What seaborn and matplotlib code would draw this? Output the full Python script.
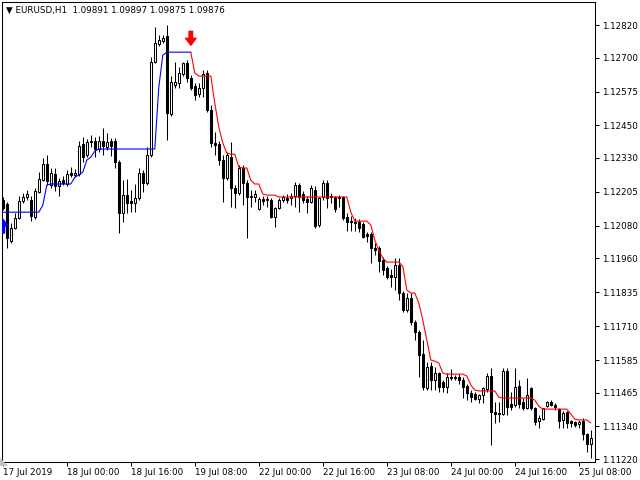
import matplotlib

matplotlib.use("Agg")
import matplotlib.pyplot as plt
import numpy as np
import pandas as pd
import seaborn as sns
from matplotlib.patches import Polygon

SYMBOL_LINE = "EURUSD,H1  1.09891 1.09897 1.09875 1.09876"

# hourly candles, one entry per bar (17 Jul 08:00 .. 25 Jul 11:00)
OPEN = [
    1.12175, 1.12160, 1.12024, 1.12071, 1.12108, 1.12171, 1.12186, 1.12175, 1.12112, 1.12204,
    1.12248, 1.12307, 1.12230, 1.12271, 1.12226, 1.12248, 1.12234, 1.12274, 1.12267, 1.12271,
    1.12381, 1.12341, 1.12389, 1.12392, 1.12363, 1.12392, 1.12370, 1.12392, 1.12392, 1.12315,
    1.12127, 1.12193, 1.12171, 1.12164, 1.12182, 1.12274, 1.12237, 1.12341, 1.12683, 1.12750,
    1.12761, 1.12779, 1.12492, 1.12599, 1.12606, 1.12639, 1.12680, 1.12624, 1.12595, 1.12565,
    1.12588, 1.12643, 1.12506, 1.12385, 1.12381, 1.12322, 1.12256, 1.12333, 1.12219, 1.12201,
    1.12293, 1.12237, 1.12189, 1.12186, 1.12142, 1.12178, 1.12175, 1.12175, 1.12112, 1.12145,
    1.12175, 1.12182, 1.12182, 1.12189, 1.12230, 1.12197, 1.12178, 1.12167, 1.12212, 1.12083,
    1.12186, 1.12237, 1.12186, 1.12186, 1.12182, 1.12186, 1.12112, 1.12097, 1.12094, 1.12094,
    1.12086, 1.12049, 1.12049, 1.11998, 1.11998, 1.11954, 1.11924, 1.11898, 1.11891, 1.11935,
    1.11832, 1.11769, 1.11813, 1.11725, 1.11688, 1.11607, 1.11482, 1.11563, 1.11511, 1.11537,
    1.11504, 1.11485, 1.11522, 1.11518, 1.11522, 1.11511, 1.11489, 1.11463, 1.11460, 1.11441,
    1.11456, 1.11478, 1.11526, 1.11393, 1.11389, 1.11386, 1.11544, 1.11423, 1.11419, 1.11489,
    1.11430, 1.11408, 1.11482, 1.11408, 1.11360, 1.11367, 1.11415, 1.11430, 1.11419, 1.11404,
    1.11364, 1.11393, 1.11360, 1.11356, 1.11349, 1.11360, 1.11312, 1.11275,
]
HIGH = [
    1.12186, 1.12167, 1.12090, 1.12127, 1.12189, 1.12201, 1.12212, 1.12189, 1.12219, 1.12278,
    1.12330, 1.12341, 1.12293, 1.12293, 1.12256, 1.12263, 1.12285, 1.12296, 1.12289, 1.12392,
    1.12407, 1.12400, 1.12414, 1.12407, 1.12411, 1.12440, 1.12422, 1.12403, 1.12403, 1.12322,
    1.12248, 1.12252, 1.12212, 1.12234, 1.12293, 1.12285, 1.12370, 1.12702, 1.12812, 1.12783,
    1.12783, 1.12820, 1.12632, 1.12683, 1.12665, 1.12683, 1.12691, 1.12635, 1.12606, 1.12606,
    1.12654, 1.12654, 1.12525, 1.12425, 1.12392, 1.12341, 1.12352, 1.12389, 1.12230, 1.12304,
    1.12304, 1.12248, 1.12212, 1.12212, 1.12186, 1.12189, 1.12189, 1.12182, 1.12149, 1.12182,
    1.12193, 1.12197, 1.12201, 1.12241, 1.12237, 1.12208, 1.12189, 1.12230, 1.12226, 1.12186,
    1.12248, 1.12248, 1.12201, 1.12189, 1.12193, 1.12189, 1.12127, 1.12116, 1.12108, 1.12105,
    1.12094, 1.12057, 1.12057, 1.12016, 1.12005, 1.11965, 1.11931, 1.11920, 1.11961, 1.11961,
    1.11839, 1.11832, 1.11832, 1.11732, 1.11695, 1.11659, 1.11577, 1.11577, 1.11559, 1.11541,
    1.11511, 1.11537, 1.11552, 1.11530, 1.11533, 1.11522, 1.11496, 1.11474, 1.11467, 1.11460,
    1.11485, 1.11537, 1.11555, 1.11430, 1.11430, 1.11555, 1.11555, 1.11467, 1.11555, 1.11511,
    1.11445, 1.11518, 1.11485, 1.11412, 1.11382, 1.11408, 1.11434, 1.11437, 1.11426, 1.11408,
    1.11397, 1.11397, 1.11364, 1.11360, 1.11364, 1.11371, 1.11316, 1.11327,
]
LOW = [
    1.12138, 1.11998, 1.12016, 1.12068, 1.12105, 1.12164, 1.12175, 1.12097, 1.12105, 1.12201,
    1.12245, 1.12230, 1.12219, 1.12208, 1.12189, 1.12230, 1.12226, 1.12259, 1.12259, 1.12263,
    1.12315, 1.12333, 1.12370, 1.12333, 1.12352, 1.12341, 1.12359, 1.12337, 1.12293, 1.12053,
    1.12094, 1.12127, 1.12130, 1.12130, 1.12175, 1.12204, 1.12230, 1.12333, 1.12680, 1.12742,
    1.12753, 1.12396, 1.12484, 1.12588, 1.12588, 1.12632, 1.12610, 1.12580, 1.12543, 1.12554,
    1.12554, 1.12499, 1.12370, 1.12341, 1.12304, 1.12167, 1.12248, 1.12149, 1.12145, 1.12193,
    1.12156, 1.12035, 1.12149, 1.12167, 1.12138, 1.12156, 1.12149, 1.12108, 1.12075, 1.12142,
    1.12167, 1.12164, 1.12156, 1.12149, 1.12130, 1.12164, 1.12127, 1.12164, 1.12071, 1.12075,
    1.12175, 1.12145, 1.12164, 1.12130, 1.12149, 1.12101, 1.12060, 1.12060, 1.12060, 1.12057,
    1.12035, 1.12020, 1.11942, 1.11972, 1.11909, 1.11898, 1.11883, 1.11854, 1.11843, 1.11806,
    1.11762, 1.11762, 1.11714, 1.11659, 1.11522, 1.11474, 1.11474, 1.11474, 1.11474, 1.11467,
    1.11467, 1.11463, 1.11511, 1.11511, 1.11496, 1.11445, 1.11437, 1.11430, 1.11437, 1.11426,
    1.11426, 1.11467, 1.11271, 1.11353, 1.11356, 1.11382, 1.11382, 1.11401, 1.11412, 1.11408,
    1.11401, 1.11404, 1.11401, 1.11345, 1.11334, 1.11364, 1.11412, 1.11415, 1.11401, 1.11334,
    1.11334, 1.11334, 1.11338, 1.11338, 1.11334, 1.11290, 1.11246, 1.11224,
]
CLOSE = [
    1.12145, 1.12035, 1.12071, 1.12108, 1.12171, 1.12186, 1.12197, 1.12116, 1.12208, 1.12252,
    1.12307, 1.12245, 1.12274, 1.12226, 1.12245, 1.12237, 1.12271, 1.12267, 1.12274, 1.12374,
    1.12333, 1.12389, 1.12392, 1.12363, 1.12392, 1.12374, 1.12389, 1.12374, 1.12315, 1.12127,
    1.12193, 1.12164, 1.12164, 1.12182, 1.12274, 1.12237, 1.12341, 1.12683, 1.12753, 1.12765,
    1.12772, 1.12495, 1.12610, 1.12610, 1.12643, 1.12680, 1.12624, 1.12588, 1.12562, 1.12588,
    1.12639, 1.12506, 1.12385, 1.12377, 1.12322, 1.12256, 1.12341, 1.12219, 1.12201, 1.12293,
    1.12237, 1.12186, 1.12186, 1.12197, 1.12178, 1.12171, 1.12178, 1.12112, 1.12145, 1.12175,
    1.12186, 1.12175, 1.12189, 1.12230, 1.12186, 1.12175, 1.12167, 1.12219, 1.12079, 1.12182,
    1.12237, 1.12182, 1.12189, 1.12142, 1.12186, 1.12108, 1.12094, 1.12094, 1.12090, 1.12071,
    1.12038, 1.12042, 1.11998, 1.11990, 1.11950, 1.11917, 1.11891, 1.11891, 1.11935, 1.11832,
    1.11769, 1.11813, 1.11725, 1.11688, 1.11603, 1.11485, 1.11559, 1.11511, 1.11537, 1.11485,
    1.11485, 1.11522, 1.11518, 1.11522, 1.11511, 1.11485, 1.11463, 1.11448, 1.11441, 1.11456,
    1.11482, 1.11526, 1.11393, 1.11386, 1.11386, 1.11544, 1.11412, 1.11412, 1.11485, 1.11423,
    1.11408, 1.11456, 1.11408, 1.11356, 1.11371, 1.11408, 1.11430, 1.11419, 1.11412, 1.11360,
    1.11389, 1.11353, 1.11353, 1.11345, 1.11356, 1.11312, 1.11275, 1.11297,
]

# trailing trend line: blue while up (bars 0..47), red while down (bars 47..147)
UP_START = 0
UP_LINE = [
    1.12130, 1.12130, 1.12130, 1.12130, 1.12130, 1.12130, 1.12130, 1.12130, 1.12130, 1.12130,
    1.12156, 1.12230, 1.12234, 1.12234, 1.12234, 1.12234, 1.12234, 1.12234, 1.12259, 1.12267,
    1.12278, 1.12322, 1.12333, 1.12355, 1.12363, 1.12363, 1.12363, 1.12363, 1.12363, 1.12363,
    1.12363, 1.12363, 1.12363, 1.12363, 1.12363, 1.12363, 1.12363, 1.12363, 1.12363, 1.12591,
    1.12709, 1.12720, 1.12720, 1.12720, 1.12720, 1.12720, 1.12720, 1.12720,
]
DOWN_START = 47
DOWN_LINE = [
    1.12720, 1.12643, 1.12632, 1.12632, 1.12632, 1.12632, 1.12532, 1.12444, 1.12385, 1.12348,
    1.12344, 1.12344, 1.12296, 1.12293, 1.12293, 1.12248, 1.12234, 1.12234, 1.12197, 1.12193,
    1.12193, 1.12193, 1.12186, 1.12186, 1.12186, 1.12186, 1.12186, 1.12186, 1.12186, 1.12186,
    1.12186, 1.12186, 1.12186, 1.12186, 1.12186, 1.12186, 1.12186, 1.12186, 1.12186, 1.12186,
    1.12130, 1.12097, 1.12097, 1.12097, 1.12097, 1.12083, 1.12027, 1.11990, 1.11961, 1.11946,
    1.11946, 1.11946, 1.11946, 1.11931, 1.11843, 1.11832, 1.11832, 1.11795, 1.11732, 1.11659,
    1.11585, 1.11581, 1.11574, 1.11537, 1.11533, 1.11533, 1.11533, 1.11533, 1.11533, 1.11526,
    1.11493, 1.11474, 1.11471, 1.11471, 1.11471, 1.11471, 1.11471, 1.11448, 1.11445, 1.11445,
    1.11445, 1.11445, 1.11445, 1.11445, 1.11445, 1.11445, 1.11437, 1.11415, 1.11404, 1.11404,
    1.11404, 1.11404, 1.11404, 1.11404, 1.11404, 1.11386, 1.11367, 1.11364, 1.11364, 1.11364,
    1.11353,
]
BUY_ARROW_BAR = 0
SELL_ARROW_BAR = 47

TIME_TICK_BARS = [0, 16, 32, 48, 64, 80, 96, 112, 128, 144]
TIME_TICK_LABELS = [
    "17 Jul 2019", "18 Jul 00:00", "18 Jul 16:00", "19 Jul 08:00", "22 Jul 00:00",
    "22 Jul 16:00", "23 Jul 08:00", "24 Jul 00:00", "24 Jul 16:00", "25 Jul 08:00",
]
PRICE_TICKS = [
    1.12820, 1.12700, 1.12575, 1.12450, 1.12330, 1.12205, 1.12080,
    1.11960, 1.11835, 1.11710, 1.11585, 1.11465, 1.11340, 1.11220,
]
PRICE_RANGE = (1.11209, 1.12905)

W, H = 640, 480
FONT_SIZE = 6.3


def main() -> None:
    candles = pd.DataFrame({"open": OPEN, "high": HIGH, "low": LOW, "close": CLOSE})
    candles["bar"] = np.arange(len(candles))
    bull = candles["close"] >= candles["open"]

    trend = pd.concat(
        [
            pd.DataFrame({"bar": np.arange(UP_START, UP_START + len(UP_LINE)),
                          "level": UP_LINE, "side": "up"}),
            pd.DataFrame({"bar": np.arange(DOWN_START, DOWN_START + len(DOWN_LINE)),
                          "level": DOWN_LINE, "side": "down"}),
        ],
        ignore_index=True,
    )

    sns.set_style("white")
    plt.rcParams["font.family"] = ["DejaVu Sans"]

    fig = plt.figure(figsize=(W / 100, H / 100), dpi=100)
    fig.patch.set_facecolor("white")
    ax = fig.add_axes([2 / W, 18 / H, 593 / W, 460 / H])

    # wicks under the bodies
    ax.vlines(candles["bar"], candles["low"], candles["high"],
              color="black", linewidth=0.75, zorder=1)
    body_bottom = candles[["open", "close"]].min(axis=1)
    body_height = (candles["close"] - candles["open"]).abs()
    ax.bar(candles["bar"], body_height, bottom=body_bottom, width=0.57,
           color=np.where(bull, "white", "black"), edgecolor="black",
           linewidth=0.75, zorder=2)

    sns.lineplot(data=trend, x="bar", y="level", hue="side",
                 palette={"up": "#0000ff", "down": "#ff0000"},
                 estimator=None, sort=False, linewidth=0.8, legend=False,
                 ax=ax, zorder=3)

    sell = ax.annotate(
        "", xy=(SELL_ARROW_BAR, DOWN_LINE[SELL_ARROW_BAR - DOWN_START]),
        xytext=(0, 15), textcoords="offset points",
        arrowprops=dict(arrowstyle="simple,head_length=0.5,head_width=0.75,tail_width=0.25",
                        color="#ff0000", shrinkA=0, shrinkB=5, mutation_scale=10),
    )
    buy = ax.annotate(
        "", xy=(BUY_ARROW_BAR, UP_LINE[BUY_ARROW_BAR - UP_START]),
        xytext=(0, -15), textcoords="offset points",
        arrowprops=dict(arrowstyle="simple,head_length=0.5,head_width=0.75,tail_width=0.25",
                        color="#0000ff", shrinkA=0, shrinkB=5, mutation_scale=10),
    )
    for ann in (sell, buy):
        ann.arrow_patch.set_clip_box(ax.bbox)

    ax.set_xlim(-0.2, 148.05)
    ax.set_ylim(*PRICE_RANGE)
    ax.yaxis.tick_right()
    ax.set_yticks(PRICE_TICKS)
    ax.set_yticklabels([f"{p:.5f}" for p in PRICE_TICKS])
    ax.set_xticks(TIME_TICK_BARS)
    ax.set_xticklabels(TIME_TICK_LABELS, ha="left")
    ax.set_xlabel("")
    ax.set_ylabel("")
    ax.tick_params(axis="x", bottom=True, length=3, width=0.75, pad=1,
                   labelsize=FONT_SIZE, color="black", labelcolor="black")
    ax.tick_params(axis="y", right=True, left=False, length=3, width=0.75, pad=2,
                   labelsize=FONT_SIZE, color="black", labelcolor="black")
    for spine in ax.spines.values():
        spine.set_visible(True)
        spine.set_color("black")
        spine.set_linewidth(0.75)
    ax.grid(False)

    fig.text(6 / W, 1 - 6 / H, "\u25bc " + SYMBOL_LINE, fontsize=FONT_SIZE,
             ha="left", va="top", color="black")
    fig.add_artist(Polygon([(0, 22 / H), (0, 14 / H), (8 / W, 14 / H)],
                           closed=True, transform=fig.transFigure,
                           facecolor="#c0c0c0", edgecolor="none"))

    fig.savefig("out.png", dpi=100)
    plt.close(fig)


if __name__ == "__main__":
    main()
